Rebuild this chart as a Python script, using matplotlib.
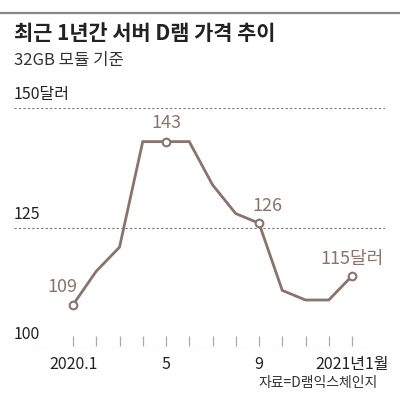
import matplotlib
matplotlib.use('Agg')
import matplotlib.pyplot as plt
import matplotlib.transforms as mtransforms
from matplotlib.lines import Line2D

plt.rcParams['font.family'] = ['Noto Sans CJK KR', 'DejaVu Sans']

# 데이터 (2020.1 ~ 2021.1, 월별)
months = list(range(13))
prices = [109, 116, 121, 143, 143, 143, 134, 128, 126, 112, 110, 110, 115]
tick_labels = {0: '2020.1', 4: '5', 8: '9', 12: '2021년1월'}
marked = [0, 4, 8, 12]
marked_labels = ['109', '143', '126', '115달러']
y_levels = [100, 125, 150]
y_texts = ['100', '125', '150달러']

line_color = '#8c7369'
grid_color = '#777777'

W, H = 400, 396
fig = plt.figure(figsize=(W / 100, H / 100), dpi=100)

# 상단 회색 선
fig.add_artist(Line2D([0, 1], [1 - 12.5 / H, 1 - 12.5 / H], transform=fig.transFigure,
                      color='#888888', lw=1.6))

fig.text(14 / W, 1 - 33 / H, '최근 1년간 서버 D램 가격 추이', fontsize=15,
         fontweight='bold', color='#222222', va='center', ha='left')
fig.text(14 / W, 1 - 61 / H, '32GB 모듈 기준', fontsize=12, color='#333333',
         va='center', ha='left')
fig.text(378 / W, 1 - 383 / H, '자료=D램익스체인지', fontsize=10, color='#333333',
         va='center', ha='right')

# 축 위치 (픽셀 기준)
x_left, x_right = 14, 385
y_bot, y_top = 348, 108
ax = fig.add_axes([x_left / W, 1 - y_bot / H, (x_right - x_left) / W, (y_bot - y_top) / H])
px_per_month = (352 - 73) / 12
ax.set_xlim((x_left - 73) / px_per_month, (x_right - 73) / px_per_month)
ax.set_ylim(100, 150)
for s in ax.spines.values():
    s.set_visible(False)
ax.patch.set_alpha(0)

# 점선 기준선과 라벨
trans = mtransforms.blended_transform_factory(ax.transAxes, ax.transData)
for lvl, txt in zip(y_levels, y_texts):
    ax.axhline(lvl, color=grid_color, lw=0.8, linestyle=(0, (2, 2)), zorder=1)
    ax.annotate(txt, xy=(0, lvl), xycoords=trans, xytext=(0, 3.5), textcoords='offset points',
                ha='left', va='bottom', fontsize=11.5, color='#222222')

# 눈금
ax.set_yticks([])
ax.set_xticks(months)
ax.set_xticklabels([tick_labels.get(m, '') for m in months], fontsize=11.5, color='#222222')
ax.tick_params(axis='x', direction='in', length=7, width=0.9, color='#aaaaaa', pad=6)
for t in ax.xaxis.get_major_ticks():
    t.tick1line.set_transform(t.tick1line.get_transform() + mtransforms.ScaledTranslation(0, 2 / 100, fig.dpi_scale_trans))

# 선
ax.plot(months, prices, color=line_color, lw=2, solid_joinstyle='miter', zorder=3, clip_on=False)
ax.plot([months[i] for i in marked], [prices[i] for i in marked], 'o', ms=5.5,
        mfc='white', mec=line_color, mew=1.5, zorder=4, clip_on=False)

offsets = [(3, 6, 'right'), (0, 7, 'center'), (6, 6, 'center'), (0, 6, 'center')]
for i, lab, (dx, dy, ha) in zip(marked, marked_labels, offsets):
    ax.annotate(lab, xy=(months[i], prices[i]), xytext=(dx, dy), textcoords='offset points',
                ha=ha, va='bottom', fontsize=13, color=line_color)

fig.savefig('out.png', dpi=100)
